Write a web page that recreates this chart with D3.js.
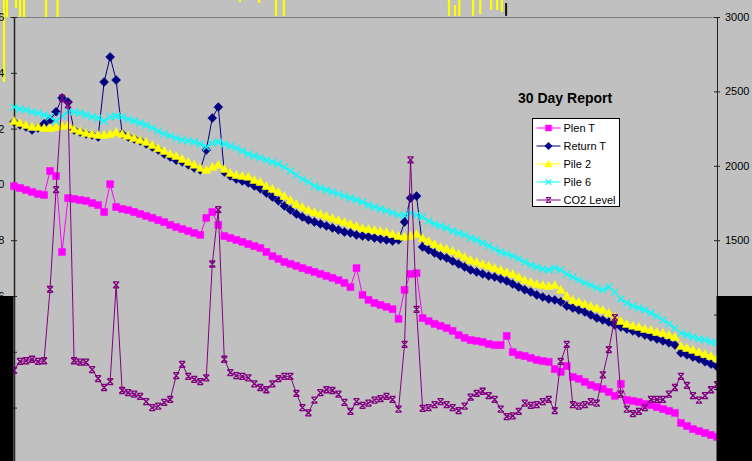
<!DOCTYPE html>
<meta charset="utf-8">
<title>30 Day Report</title>
<style>
  body {
    margin: 0;
    padding: 0;
    overflow: hidden;
    background-color: #c0c0c0;
  }

  svg {
    display: block;
    font-family: Arial, "Liberation Sans", sans-serif;
  }

  .line {
    fill: none;
    stroke-width: 1;
  }

  .axis text {
    font-size: 11px;
    fill: #000;
  }

  .axis path,
  .axis line {
    stroke: #222;
  }

  .legend text {
    font-size: 11px;
    fill: #000;
  }
</style>

<body>
  <script src="https://cdn.jsdelivr.net/npm/d3@7"></script>
  <script>
    // readings, one every ~2.4 hours over the 30 days
    const plenT = [19.94, 19.87, 19.80, 19.73, 19.66, 19.62, 20.48, 20.30, 17.58, 19.51,
      19.48, 19.44, 19.41, 19.33, 19.26, 19.01, 20.01, 19.19, 19.12, 19.08,
      19.01, 18.94, 18.87, 18.80, 18.72, 18.65, 18.55, 18.47, 18.40, 18.33,
      18.26, 18.19, 18.80, 19.01, 18.55, 18.15, 18.08, 18.01, 17.94, 17.86,
      17.79, 17.72, 17.58, 17.43, 17.33, 17.22, 17.15, 17.08, 17.00, 16.93,
      16.86, 16.79, 16.72, 16.65, 16.57, 16.47, 16.32, 17.00, 16.04, 15.86,
      15.75, 15.68, 15.61, 15.53, 15.18, 16.22, 16.79, 16.82, 15.21, 15.10,
      15.00, 14.93, 14.85, 14.75, 14.60, 14.50, 14.42, 14.39, 14.35, 14.28,
      14.24, 14.24, 14.57, 13.99, 13.89, 13.85, 13.78, 13.71, 13.67, 13.64,
      13.38, 13.28, 13.49, 13.10, 13.03, 12.92, 12.81, 12.74, 12.67, 12.56,
      12.42, 12.85, 12.27, 12.24, 12.20, 12.13, 12.09, 12.02, 11.95, 11.88,
      11.81, 11.45, 11.34, 11.23, 11.16, 11.09, 11.02, 10.95];

    const returnT = [22.24, 22.13, 22.06, 21.95, 22.02, 22.17, 22.31, 22.60, 23.10, 22.95,
      21.95, 21.88, 21.81, 21.77, 21.70, 23.67, 24.57, 23.74, 21.81, 21.70,
      21.63, 21.56, 21.45, 21.34, 21.23, 21.09, 20.98, 20.87, 20.80, 20.70,
      20.59, 20.52, 21.23, 22.38, 22.77, 20.44, 20.30, 20.19, 20.12, 20.05,
      19.94, 19.84, 19.69, 19.55, 19.41, 19.23, 19.08, 18.94, 18.83, 18.72,
      18.65, 18.58, 18.51, 18.44, 18.37, 18.29, 18.26, 18.19, 18.15, 18.12,
      18.08, 18.04, 18.01, 17.97, 18.01, 18.65, 19.51, 19.58, 17.76, 17.65,
      17.54, 17.43, 17.36, 17.25, 17.15, 17.04, 16.93, 16.86, 16.79, 16.72,
      16.68, 16.61, 16.54, 16.43, 16.32, 16.22, 16.14, 16.04, 15.96, 15.89,
      15.86, 15.79, 15.64, 15.57, 15.50, 15.43, 15.32, 15.21, 15.14, 15.07,
      14.96, 14.89, 14.82, 14.75, 14.67, 14.60, 14.53, 14.46, 14.39, 14.32,
      14.24, 13.96, 13.89, 13.81, 13.74, 13.64, 13.56, 13.46];

    const pile2 = [22.27, 22.20, 22.13, 22.06, 22.06, 22.02, 22.02, 22.06, 22.09, 22.13,
      21.99, 21.91, 21.84, 21.81, 21.77, 21.77, 21.81, 21.88, 21.81, 21.74,
      21.66, 21.59, 21.52, 21.41, 21.30, 21.20, 21.09, 21.02, 20.91, 20.80,
      20.70, 20.59, 20.52, 20.62, 20.70, 20.55, 20.41, 20.34, 20.30, 20.27,
      20.16, 20.09, 19.94, 19.84, 19.73, 19.58, 19.44, 19.30, 19.19, 19.08,
      19.01, 18.94, 18.87, 18.80, 18.72, 18.65, 18.58, 18.51, 18.44, 18.40,
      18.37, 18.33, 18.29, 18.22, 18.15, 18.12, 18.15, 18.22, 18.08, 17.97,
      17.86, 17.76, 17.69, 17.61, 17.51, 17.40, 17.29, 17.22, 17.15, 17.08,
      17.00, 16.93, 16.86, 16.79, 16.68, 16.57, 16.50, 16.43, 16.39, 16.36,
      16.39, 16.22, 16.00, 15.86, 15.79, 15.71, 15.64, 15.57, 15.50, 15.39,
      15.25, 15.10, 15.00, 14.93, 14.89, 14.82, 14.78, 14.71, 14.67, 14.60,
      14.53, 14.21, 14.14, 14.07, 13.99, 13.92, 13.85, 13.78];

    const pile6 = [22.77, 22.70, 22.67, 22.60, 22.56, 22.49, 22.42, 22.27, 22.45, 22.60,
      22.60, 22.56, 22.49, 22.42, 22.38, 22.27, 22.42, 22.45, 22.42, 22.34,
      22.27, 22.20, 22.13, 22.02, 21.91, 21.81, 21.74, 21.66, 21.59, 21.56,
      21.52, 21.45, 21.34, 21.48, 21.52, 21.45, 21.38, 21.30, 21.20, 21.09,
      21.02, 20.95, 20.87, 20.80, 20.73, 20.62, 20.48, 20.34, 20.19, 20.09,
      19.94, 19.87, 19.80, 19.73, 19.66, 19.58, 19.51, 19.44, 19.37, 19.26,
      19.19, 19.12, 19.05, 18.98, 18.90, 18.90, 18.98, 18.90, 18.83, 18.69,
      18.58, 18.51, 18.44, 18.33, 18.26, 18.19, 18.08, 18.01, 17.90, 17.79,
      17.69, 17.58, 17.51, 17.43, 17.33, 17.22, 17.11, 17.04, 16.97, 16.93,
      17.00, 16.93, 16.79, 16.68, 16.57, 16.47, 16.39, 16.29, 16.22, 16.32,
      16.14, 15.89, 15.75, 15.64, 15.57, 15.50, 15.39, 15.28, 15.14, 15.00,
      14.85, 14.67, 14.60, 14.53, 14.46, 14.42, 14.35, 14.32];

    const co2Level = [625, 685, 690, 700, 685, 690, 1170, 1840, 2455, 2410,
      690, 680, 680, 630, 570, 510, 550, 1200, 490, 475,
      465, 450, 415, 375, 385, 410, 430, 590, 665, 585,
      565, 550, 575, 1340, 1705, 700, 610, 590, 585, 575,
      535, 510, 495, 535, 570, 585, 585, 470, 375, 340,
      425, 475, 495, 490, 465, 410, 350, 415, 390, 405,
      425, 435, 450, 430, 365, 800, 2040, 1035, 370, 375,
      395, 415, 395, 375, 355, 385, 445, 470, 485, 455,
      430, 365, 315, 320, 350, 405, 390, 395, 415, 430,
      355, 685, 800, 395, 385, 395, 415, 405, 595, 765,
      980, 465, 365, 335, 350, 375, 430, 430, 430, 465,
      510, 585, 525, 455, 425, 455, 495, 530];

    const seriesNames = ["Plen T", "Return T", "Pile 2", "Pile 6", "CO2 Level"];
    const leftTicks = [26, 24, 22, 20, 18, 16, 14, 12, 10];
    const rightTicks = [3000, 2500, 2000, 1500, 1000, 500, 0];

    // bits of another trace showing above the plot: [sample, from, to] in left-axis units
    const bleed = [[-1.66, 26.61, 23.67], [-1.17, 26.61, 26.0], [0.33, 26.61, 26.32],
      [1.0, 26.61, 26.0], [1.66, 26.61, 26.0], [5.33, 26.61, 26.0], [7.24, 26.61, 26.0],
      [37.6, 26.61, 26.54], [40.8, 26.61, 26.5], [43.6, 26.61, 26.04], [44.9, 26.61, 26.04],
      [72.4, 26.61, 26.04], [73.4, 26.43, 26.04], [74.1, 26.61, 26.04], [76.4, 26.61, 26.04],
      [77.6, 26.61, 26.1], [79.4, 26.61, 26.25], [80.4, 26.61, 26.25], [81.2, 26.61, 26.18]];
    const bleedDark = [[81.9, 26.5, 26.04]];

    var width = 752,
      height = 461;

    var x = d3.scaleLinear().domain([0, plenT.length - 1]).range([14, 717]);
    var yL = d3.scaleLinear().domain([10, 26]).range([463.4, 17]);
    var yR = d3.scaleLinear().domain([0, 3000]).range([463.4, 17]);

    var markers = {
      square: "M-3.5,-3.5h7v7h-7z",
      diamond: "M0,-4.5L4.5,0L0,4.5L-4.5,0Z",
      triangle: "M0,-4.5L4.5,3.5L-4.5,3.5Z",
      cross: "M-3.5,-3.5L3.5,3.5M-3.5,3.5L3.5,-3.5",
      star: "M-3,-3H3M-3,3H3M-3,-3L3,3M3,-3L-3,3"
    };

    var series = [
      { name: seriesNames[0], values: plenT, y: yL, color: "#ff00ff", marker: "square", filled: true },
      { name: seriesNames[1], values: returnT, y: yL, color: "#000080", marker: "diamond", filled: true },
      { name: seriesNames[2], values: pile2, y: yL, color: "#ffff00", marker: "triangle", filled: true },
      { name: seriesNames[3], values: pile6, y: yL, color: "#00ffff", marker: "cross", filled: false },
      { name: seriesNames[4], values: co2Level, y: yR, color: "#800080", marker: "star", filled: false }
    ];

    var svg = d3.select("body").append("svg")
      .attr("width", width)
      .attr("height", height);

    svg.append("rect")
      .attr("width", width)
      .attr("height", height)
      .attr("fill", "#c0c0c0");

    // stray trace above the plot
    svg.append("g").selectAll("line").data(bleed)
      .enter().append("line")
      .attr("x1", d => x(d[0])).attr("x2", d => x(d[0]))
      .attr("y1", d => yL(d[1])).attr("y2", d => yL(d[2]))
      .attr("stroke", "#ffff00")
      .attr("stroke-width", 2.2);
    svg.append("g").selectAll("line").data(bleedDark)
      .enter().append("line")
      .attr("x1", d => x(d[0])).attr("x2", d => x(d[0]))
      .attr("y1", d => yL(d[1])).attr("y2", d => yL(d[2]))
      .attr("stroke", "#111")
      .attr("stroke-width", 2);

    // plot area top border
    svg.append("line")
      .attr("x1", 10).attr("x2", x.range()[1])
      .attr("y1", yL(26) + 0.5).attr("y2", yL(26) + 0.5)
      .attr("stroke", "#808080");

    var gLeft = svg.append("g").attr("class", "axis")
      .attr("transform", "translate(14,0)")
      .call(d3.axisLeft(yL).tickValues(leftTicks).tickSizeInner(3).tickSizeOuter(0).tickPadding(6.5));
    gLeft.selectAll(".tick line").attr("x1", 3);
    gLeft.select(".domain").attr("stroke-width", 1.5);

    var gRight = svg.append("g").attr("class", "axis")
      .attr("transform", "translate(717,0)")
      .call(d3.axisRight(yR).tickValues(rightTicks).tickFormat(d3.format("d"))
        .tickSizeInner(3).tickSizeOuter(0).tickPadding(5));
    gRight.selectAll(".tick line").attr("x1", -3);

    var line = function (s) {
      return d3.line()
        .x((d, i) => x(i))
        .y(d => s.y(d))(s.values);
    };

    var gSeries = svg.append("g").selectAll("g").data(series)
      .enter().append("g");

    gSeries.append("path")
      .attr("class", "line")
      .attr("d", line)
      .attr("stroke", d => d.color);

    gSeries.each(function (s) {
      d3.select(this).append("g").selectAll("path")
        .data(s.values)
        .enter().append("path")
        .attr("transform", (d, i) => "translate(" + x(i) + "," + s.y(d) + ")")
        .attr("d", markers[s.marker])
        .attr("fill", s.filled ? s.color : "none")
        .attr("stroke", s.color)
        .attr("stroke-width", s.filled ? 0.5 : 1.3);
    });

    // black blocks over the lower corners
    svg.append("rect")
      .attr("x", 0).attr("y", yL(16))
      .attr("width", 13.5).attr("height", height - yL(16))
      .attr("fill", "#000");
    svg.append("rect")
      .attr("x", 716.5).attr("y", yL(16))
      .attr("width", width - 716.5).attr("height", height - yL(16))
      .attr("fill", "#000");

    svg.append("text")
      .attr("x", 518)
      .attr("y", 103)
      .style("font-size", "14px")
      .style("font-weight", "bold")
      .text("30 Day Report");

    var legend = svg.append("g").attr("class", "legend")
      .attr("transform", "translate(532.5,118.5)");

    legend.append("rect")
      .attr("width", 87)
      .attr("height", 88)
      .attr("fill", "#fff")
      .attr("stroke", "#000");

    var item = legend.selectAll(".item").data(series)
      .enter().append("g")
      .attr("class", "item")
      .attr("transform", (d, i) => "translate(0," + (9.5 + i * 18) + ")");

    item.append("line")
      .attr("x1", 4).attr("x2", 28)
      .attr("stroke", d => d.color);

    item.append("path")
      .attr("transform", "translate(16,0) scale(0.85)")
      .attr("d", d => markers[d.marker])
      .attr("fill", d => d.filled ? d.color : "none")
      .attr("stroke", d => d.color)
      .attr("stroke-width", d => d.filled ? 0.5 : 1.2);

    item.append("text")
      .attr("x", 31)
      .attr("dy", "0.35em")
      .text(d => d.name);
  </script>
</body>
